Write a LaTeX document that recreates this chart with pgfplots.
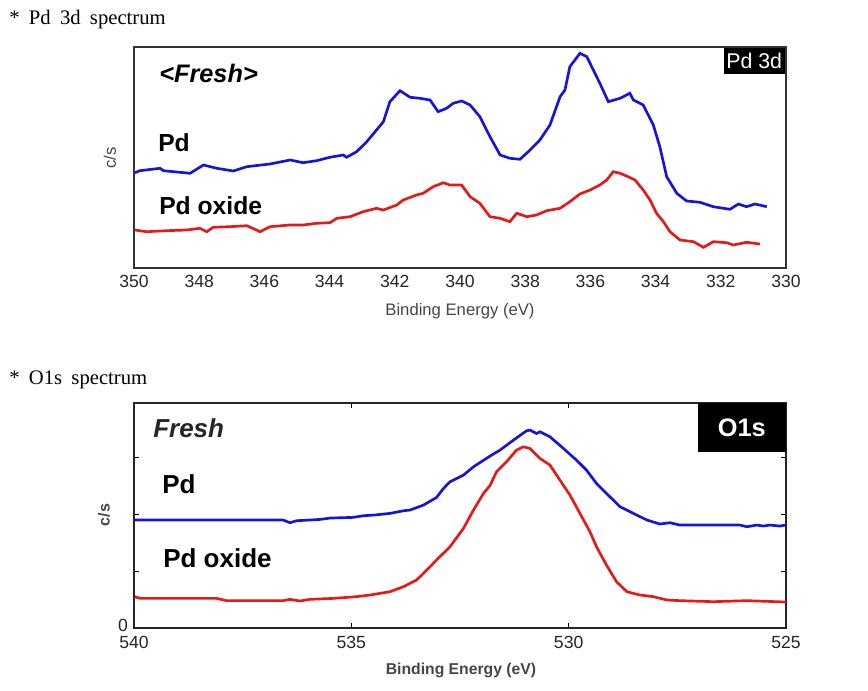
\documentclass[border=0pt]{standalone}
\usepackage{fontspec}
\setmainfont{Liberation Sans}
\newfontfamily\titlefont[WordSpace=1.8]{Liberation Serif}
\usepackage{pgfplots}
\pgfplotsset{compat=1.18}
\definecolor{cblue}{RGB}{20,20,220}
\definecolor{cred}{RGB}{230,25,25}
\definecolor{lblgray}{RGB}{70,70,70}
\begin{document}
\begin{tikzpicture}[x=0.75pt,y=-0.75pt]
\path[use as bounding box] (0,0) rectangle (868,691);
% ---------------- Pd 3d ----------------
\node[anchor=west,inner sep=0pt,font=\titlefont\fontsize{15.5}{17}\selectfont] at (9,20) {* Pd 3d spectrum};
\begin{axis}[at={(100.5pt,-201pt)},anchor=south west,scale only axis,
  width=489pt,height=165.75pt,x dir=reverse,xmin=330,xmax=350,ymin=0,ymax=221,
  xtick={330,332,...,350},ytick=\empty,major tick length=0pt,
  axis line style={draw=black!80,line width=1pt},
  ticklabel style={font=\fontsize{13.2}{15}\selectfont,text=black!85},
  /pgf/number format/assume math mode=true,/pgf/number format/1000 sep={},
  xticklabel style={yshift=-2pt}]
\addplot[cblue,line width=2pt] coordinates {
(349.97,95.3)(349.82,97.3)(349.20,99.7)(349.10,97.3)(348.28,94.7)(347.87,103)(347.46,99.7)
(346.95,97)(346.54,101.3)(345.83,104)(345.21,108)(344.81,105.3)(344.40,107.3)(343.99,110.7)
(343.58,113)(343.48,110.7)(343.17,116.3)(342.86,126.3)(342.56,138)(342.35,146.3)(342.15,166.3)
(341.84,177.3)(341.53,170.7)(341.23,169.7)(340.92,168)(340.67,156.3)(340.41,159.7)(340.21,164.7)
(339.95,167)(339.69,163)(339.39,151.3)(339.08,131.3)(338.77,113)(338.47,109.7)(338.16,108.7)
(337.85,118)(337.55,128)(337.24,143)(336.93,171.3)(336.78,178)(336.63,201.3)(336.32,214.7)
(336.11,211.3)(335.86,194.7)(335.71,184.7)(335.45,166.3)(335.09,169.7)(334.79,174.7)(334.68,168)
(334.38,163)(334.07,143)(333.87,121.3)(333.66,91.3)(333.35,74.7)(333.05,67)(332.64,65.7)
(332.23,61.3)(331.72,58.7)(331.46,64)(331.21,61.3)(330.95,64)(330.59,61.3)};
\addplot[cred,line width=2pt] coordinates {
(349.98,38)(349.61,36.3)(349.00,37.3)(348.38,38)(347.98,39.7)(347.77,36.3)(347.57,40.7)
(347.06,41.3)(346.54,42.3)(346.13,36.3)(345.83,41.3)(345.21,43)(344.81,43)(344.40,44.7)
(343.99,45.3)(343.78,49.7)(343.37,51.3)(342.97,56.3)(342.56,59.7)(342.35,58)(341.94,63)
(341.74,68)(341.33,73)(341.13,74.7)(340.82,81.3)(340.51,85.3)(340.31,83)(339.95,83)
(339.69,71.3)(339.39,64.7)(339.08,51.3)(338.77,49.7)(338.47,46.3)(338.26,54.7)(337.95,51.3)
(337.65,53)(337.34,57.3)(336.93,59.7)(336.63,66.3)(336.32,74)(336.01,78)(335.71,83)
(335.50,88)(335.30,96.3)(335.09,94.7)(334.89,92)(334.63,88)(334.38,78)(334.17,68)
(333.97,54.7)(333.76,46.3)(333.56,36.3)(333.25,28)(332.84,26.3)(332.53,20.7)(332.23,26.3)
(331.82,25.3)(331.62,23)(331.21,25.7)(330.80,24)};
\end{axis}
\node[font=\fontsize{12.5}{14}\selectfont,text=lblgray] at (460,311) {Binding Energy (eV)};
\node[rotate=90,font=\fontsize{12.5}{14}\selectfont,text=lblgray] at (110,158) {c/s};
\node[anchor=west,inner sep=0pt,font=\bfseries\itshape\fontsize{19}{22}\selectfont] at (159,73) {<Fresh>};
\node[anchor=west,inner sep=0pt,font=\bfseries\fontsize{18.5}{22}\selectfont] at (158,143) {Pd};
\node[anchor=west,inner sep=0pt,font=\bfseries\fontsize{18.5}{22}\selectfont] at (159,206) {Pd oxide};
\node[fill=black,text=white,anchor=north east,minimum width=45.75pt,minimum height=19.5pt,inner sep=0pt,font=\fontsize{16}{18}\selectfont] at (785,48) {Pd 3d};
% ---------------- O1s ----------------
\node[anchor=west,inner sep=0pt,font=\titlefont\fontsize{15.5}{17}\selectfont] at (9,380) {* O1s spectrum};
\begin{axis}[at={(100.5pt,-471pt)},anchor=south west,scale only axis,
  width=489pt,height=168.75pt,x dir=reverse,xmin=525,xmax=540,ymin=0,ymax=3.95,
  xtick={525,530,535,540},ytick={0,1,2,3},yticklabels={0,,,},
  major tick length=3.75pt,tick style={black,line width=0.8pt},
  axis line style={draw=black!85,line width=1pt},
  ticklabel style={font=\fontsize{13.2}{15}\selectfont,text=black!85},
  /pgf/number format/assume math mode=true,/pgf/number format/1000 sep={},
  xticklabel style={yshift=-3pt},
  yticklabel style={xshift=-1pt,yshift=2pt}]
\addplot[cblue,line width=2pt] coordinates {
(539.98,1.895)(536.57,1.895)(536.41,1.848)(536.26,1.883)(535.72,1.906)(535.49,1.930)
(534.96,1.942)(534.72,1.971)(534.49,1.982)(534.11,2.012)(533.80,2.058)(533.65,2.070)
(533.34,2.158)(533.04,2.292)(532.88,2.450)(532.73,2.567)(532.42,2.684)(532.19,2.830)
(531.81,3.018)(531.58,3.123)(531.27,3.298)(530.97,3.462)(530.89,3.474)(530.74,3.415)
(530.66,3.444)(530.43,3.357)(530.12,3.152)(529.82,2.947)(529.59,2.772)(529.36,2.538)
(529.13,2.363)(528.82,2.129)(528.51,2.012)(528.20,1.895)(527.90,1.825)(527.67,1.848)
(527.44,1.807)(526.06,1.807)(525.90,1.778)(525.67,1.807)(525.52,1.789)(525.37,1.807)
(525.14,1.789)(525.02,1.807)};
\addplot[cred,line width=2pt] coordinates {
(539.98,0.550)(539.86,0.520)(538.10,0.520)(537.87,0.480)(536.57,0.480)(536.41,0.503)
(536.18,0.474)(535.95,0.503)(535.41,0.520)(534.88,0.550)(534.57,0.579)(534.11,0.637)
(533.80,0.725)(533.50,0.842)(533.34,0.959)(533.04,1.193)(532.73,1.427)(532.42,1.749)
(532.19,2.070)(531.96,2.363)(531.81,2.500)(531.66,2.743)(531.43,2.918)(531.20,3.123)
(531.04,3.181)(530.89,3.152)(530.66,2.977)(530.43,2.860)(530.20,2.596)(529.97,2.333)
(529.74,2.012)(529.51,1.690)(529.36,1.427)(529.13,1.105)(528.90,0.813)(528.66,0.637)
(528.36,0.579)(528.05,0.550)(527.74,0.491)(527.44,0.480)(526.67,0.462)(525.90,0.480)
(525.00,0.456)};
\end{axis}
\node[font=\bfseries\fontsize{11.8}{14}\selectfont,text=lblgray] at (461,670) {Binding Energy (eV)};
\node[rotate=90,font=\bfseries\fontsize{12}{14}\selectfont,text=lblgray] at (104,515) {c/s};
\node[anchor=west,inner sep=0pt,font=\bfseries\itshape\fontsize{19.5}{22}\selectfont,text=black!85] at (153,428) {Fresh};
\node[anchor=west,inner sep=0pt,font=\bfseries\fontsize{19.5}{22}\selectfont] at (162,484) {Pd};
\node[anchor=west,inner sep=0pt,font=\bfseries\fontsize{19.5}{22}\selectfont] at (163,558) {Pd oxide};
\node[fill=black,text=white,anchor=north east,minimum width=66pt,minimum height=36.75pt,inner sep=0pt,font=\bfseries\fontsize{19}{22}\selectfont] at (786,403) {O1s};
\end{tikzpicture}
\end{document}
